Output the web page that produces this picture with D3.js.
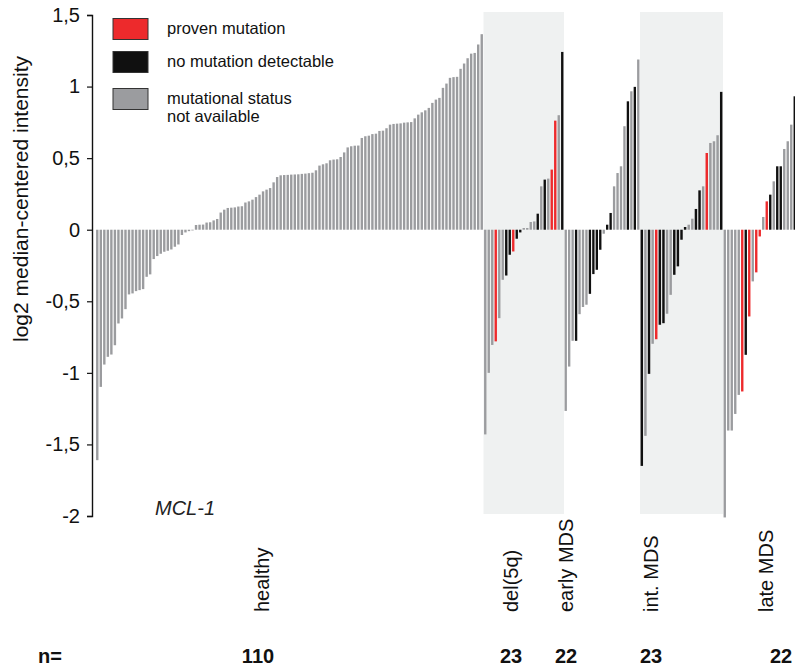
<!DOCTYPE html>
<html>
<head>
<meta charset="utf-8">
<script src="https://cdn.jsdelivr.net/npm/d3@7/dist/d3.min.js"></script>
<style>
    body { margin: 0; background: #fff; }
    svg { display: block; font-family: "Liberation Sans", Arial, Helvetica, sans-serif; }
</style>
</head>
<body>
<svg id="chart" width="795" height="667"></svg>
<script>
// --- data ---
const groupNames = ["healthy", "del(5q)", "early MDS", "int. MDS", "late MDS"];
const groupCounts = [110, 23, 22, 23, 22];
const shadedGroups = ["del(5q)", "int. MDS"];

const healthyValues = [
    -1.61, -1.098, -0.942, -0.888, -0.872, -0.807, -0.655, -0.62, -0.555, -0.452,
    -0.445, -0.429, -0.422, -0.415, -0.329, -0.312, -0.205, -0.184, -0.168, -0.154,
    -0.147, -0.138, -0.119, -0.103, -0.037, -0.019, -0.01, -0.005,
    0.033, 0.035, 0.036, 0.05, 0.052, 0.065, 0.075, 0.12, 0.14, 0.152,
    0.154, 0.156, 0.162, 0.164, 0.19, 0.198, 0.21, 0.228, 0.245, 0.268,
    0.28, 0.291, 0.331, 0.368, 0.38, 0.382, 0.383, 0.385, 0.386, 0.387,
    0.39, 0.392, 0.395, 0.398, 0.415, 0.448, 0.457, 0.464, 0.485, 0.49,
    0.492, 0.508, 0.54, 0.575, 0.583, 0.587, 0.588, 0.641, 0.653, 0.657,
    0.668, 0.671, 0.69, 0.692, 0.709, 0.734, 0.739, 0.741, 0.743, 0.748,
    0.75, 0.752, 0.778, 0.804, 0.82, 0.834, 0.851, 0.886, 0.909, 0.921,
    0.991, 1.021, 1.061, 1.066, 1.068, 1.124, 1.161, 1.198, 1.23, 1.235,
    1.294, 1.366
];
const healthyStatus = healthyValues.map(() => "g");

const del5qValues = [
    -1.43, -1.0, -0.805, -0.78, -0.618, -0.35, -0.32, -0.175, -0.152, -0.063, -0.019,
    0.012, 0.012, 0.054, 0.058, 0.112, 0.303, 0.35, 0.357, 0.42, 0.762, 0.8, 1.242
];
const del5qStatus = ["g", "g", "g", "r", "g", "g", "k", "k", "r", "k", "k",
    "g", "g", "g", "g", "k", "g", "k", "g", "r", "r", "g", "k"];

const earlyValues = [
    -1.266, -0.956, -0.776, -0.776, -0.59, -0.54, -0.524, -0.448, -0.31, -0.28, -0.14, -0.028,
    0.035, 0.117, 0.303, 0.396, 0.443, 0.723, 0.897, 0.967, 0.998, 1.189
];
const earlyStatus = ["g", "g", "g", "k", "g", "g", "g", "k", "k", "k", "k", "g",
    "k", "k", "g", "g", "g", "g", "k", "g", "k", "g"];

const intValues = [
    -1.65, -1.44, -1.007, -0.797, -0.765, -0.664, -0.653, -0.587, -0.455, -0.315, -0.256, -0.07,
    0.019, 0.035, 0.077, 0.145, 0.275, 0.303, 0.536, 0.606, 0.618, 0.66, 0.963
];
const intStatus = ["k", "g", "k", "g", "r", "k", "k", "g", "g", "k", "k", "k",
    "k", "g", "g", "k", "k", "g", "r", "g", "g", "g", "k"];

const lateValues = [
    -2.01, -1.403, -1.403, -1.287, -1.154, -1.13, -0.874, -0.606, -0.361, -0.298, -0.047,
    0.089, 0.198, 0.245, 0.338, 0.443, 0.443, 0.564, 0.618, 0.734, 0.932, 1.05
];
const lateStatus = ["g", "g", "g", "g", "g", "r", "k", "r", "g", "r", "r",
    "g", "r", "k", "g", "k", "k", "g", "g", "g", "k", "g"];

const yTicks = [1.5, 1, 0.5, 0, -0.5, -1, -1.5, -2];
const legendKeys = ["r", "k", "g"];
const legendLabels = [["proven mutation"], ["no mutation detectable"], ["mutational status", "not available"]];

// --- layout ---
const groupSpans = [[95.5, 483.5], [483.5, 564], [564, 640], [640, 723], [723, 800]];
const labelX = [262, 511, 566, 651, 766];
const countX = [258, 511, 566, 651, 781];
const statusColor = { r: "#ed2a2c", k: "#101010", g: "#9b9c9f" };

const svg = d3.select("#chart");

const y = d3.scaleLinear().domain([-2, 1.5]).range([516, 15]);

const groupData = [
    [healthyValues, healthyStatus],
    [del5qValues, del5qStatus],
    [earlyValues, earlyStatus],
    [intValues, intStatus],
    [lateValues, lateStatus]
];

// shaded panels behind two groups
groupNames.forEach((name, i) => {
    if (!shadedGroups.includes(name)) return;
    svg.append("rect")
        .attr("x", groupSpans[i][0])
        .attr("y", 12)
        .attr("width", groupSpans[i][1] - groupSpans[i][0])
        .attr("height", 502)
        .attr("fill", "#eff1f1");
});

const bars = svg.append("g").attr("class", "bars");

groupData.forEach(([values, status], gi) => {
    const x = d3.scaleBand()
        .domain(d3.range(values.length))
        .range(groupSpans[gi])
        .paddingInner(0.32)
        .paddingOuter(0.16);

    bars.append("g")
        .selectAll("rect")
        .data(values)
        .join("rect")
        .attr("x", (d, i) => x(i))
        .attr("width", x.bandwidth())
        .attr("y", d => y(Math.max(0, d)))
        .attr("height", d => Math.abs(y(d) - y(0)))
        .attr("fill", (d, i) => statusColor[status[i]]);
});

// y axis
const axis = d3.axisLeft(y)
    .tickValues(yTicks)
    .tickSize(5)
    .tickSizeOuter(5)
    .tickPadding(7)
    .tickFormat(d => String(d).replace(".", ","));

const axisG = svg.append("g")
    .attr("transform", "translate(92,0)")
    .call(axis);

axisG.select(".domain").attr("stroke", "#111").attr("stroke-width", 1.4);
axisG.selectAll(".tick line").attr("stroke", "#111").attr("stroke-width", 1.2);
axisG.selectAll(".tick text")
    .attr("fill", "#111")
    .style("font-size", "20px")
    .style("font-family", "'Liberation Sans', Arial, sans-serif");

svg.append("text")
    .attr("transform", "translate(28,199) rotate(-90)")
    .attr("text-anchor", "middle")
    .attr("fill", "#111")
    .style("font-size", "21px")
    .text("log2 median-centered intensity");

// legend
const legend = svg.append("g").attr("class", "legend");
legendKeys.forEach((key, i) => {
    const top = [18.5, 51.5, 88.5][i];
    legend.append("rect")
        .attr("x", 113)
        .attr("y", top)
        .attr("width", 35)
        .attr("height", 21)
        .attr("fill", statusColor[key])
        .attr("stroke", "#333")
        .attr("stroke-width", 1);
    legend.append("text")
        .attr("x", 167)
        .attr("y", top + 15)
        .attr("fill", "#111")
        .style("font-size", "16.5px")
        .selectAll("tspan")
        .data(legendLabels[i])
        .join("tspan")
        .attr("x", 167)
        .attr("dy", (d, j) => j === 0 ? 0 : 18)
        .text(d => d);
});

svg.append("text")
    .attr("x", 155)
    .attr("y", 515)
    .attr("fill", "#222")
    .style("font-size", "20px")
    .style("font-style", "italic")
    .text("MCL-1");

// category labels
groupNames.forEach((name, i) => {
    svg.append("text")
        .attr("transform", `translate(${labelX[i]},612) rotate(-90)`)
        .attr("dy", "0.35em")
        .attr("fill", "#111")
        .style("font-size", "20px")
        .text(name);
});

// sample counts
const countFont = "'Liberation Sans Narrow', 'Arial Narrow', 'Liberation Sans', sans-serif";
svg.append("text")
    .attr("x", 38)
    .attr("y", 663)
    .attr("fill", "#111")
    .style("font-size", "20px")
    .style("font-weight", "bold")
    .style("font-family", countFont)
    .text("n=");

groupCounts.forEach((n, i) => {
    svg.append("text")
        .attr("x", countX[i])
        .attr("y", 663)
        .attr("text-anchor", "middle")
        .attr("fill", "#111")
        .style("font-size", "20px")
        .style("font-weight", "bold")
        .style("font-family", countFont)
        .text(n);
});
</script>
</body>
</html>
